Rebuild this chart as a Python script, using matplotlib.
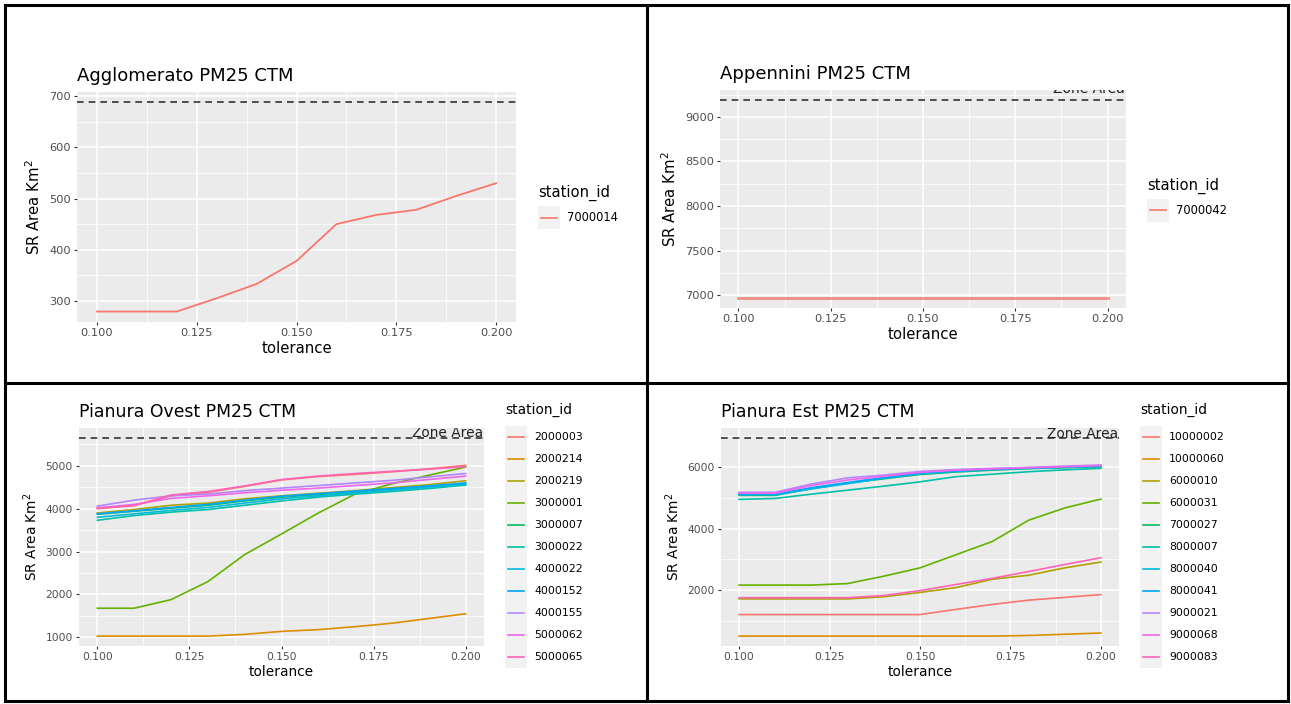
import matplotlib
matplotlib.use("Agg")
import matplotlib.pyplot as plt
from matplotlib.lines import Line2D
from matplotlib.patches import Rectangle
from matplotlib.ticker import MultipleLocator, FormatStrFormatter

plt.rcParams['font.family'] = ['DejaVu Sans']

# ---------------- data ----------------
tolerance = [0.10, 0.11, 0.12, 0.13, 0.14, 0.15, 0.16, 0.17, 0.18, 0.19, 0.20]

agg_title = "Agglomerato PM25 CTM"
agg_stations = ["7000014"]
agg_values = [
    [279, 279, 279, 305, 333, 378, 450, 468, 478, 505, 530],
]
agg_zone = 688

app_title = "Appennini PM25 CTM"
app_stations = ["7000042"]
app_values = [
    [6966, 6966, 6966, 6966, 6966, 6966, 6966, 6966, 6966, 6966, 6966],
]
app_zone = 9190

ovest_title = "Pianura Ovest PM25 CTM"
ovest_stations = ["2000003", "2000214", "2000219", "3000001", "3000007", "3000022",
                  "4000022", "4000152", "4000155", "5000062", "5000065"]
ovest_values = [
    [4000, 4080, 4300, 4380, 4520, 4670, 4750, 4800, 4860, 4930, 5010],
    [1030, 1030, 1030, 1030, 1070, 1140, 1180, 1250, 1330, 1440, 1550],
    [3900, 3980, 4080, 4130, 4230, 4300, 4360, 4420, 4490, 4560, 4650],
    [1680, 1680, 1880, 2300, 2930, 3410, 3900, 4340, 4580, 4780, 4970],
    [3870, 3940, 4010, 4080, 4180, 4270, 4330, 4390, 4450, 4520, 4580],
    [3730, 3840, 3920, 3980, 4080, 4180, 4270, 4340, 4400, 4470, 4550],
    [3800, 3880, 3960, 4030, 4130, 4230, 4300, 4370, 4430, 4500, 4570],
    [3880, 3950, 4030, 4100, 4200, 4290, 4350, 4410, 4470, 4530, 4600],
    [4060, 4200, 4300, 4340, 4420, 4480, 4540, 4600, 4660, 4740, 4820],
    [4020, 4100, 4240, 4300, 4370, 4430, 4480, 4540, 4600, 4680, 4760],
    [4010, 4070, 4320, 4400, 4530, 4680, 4760, 4820, 4870, 4920, 4980],
]
ovest_zone = 5650

est_title = "Pianura Est PM25 CTM"
est_stations = ["10000002", "10000060", "6000010", "6000031", "7000027", "8000007",
                "8000040", "8000041", "9000021", "9000068", "9000083"]
est_values = [
    [1200, 1200, 1200, 1200, 1200, 1200, 1370, 1530, 1670, 1760, 1850],
    [500, 500, 500, 500, 500, 500, 500, 500, 520, 560, 600],
    [1710, 1710, 1710, 1710, 1780, 1920, 2080, 2350, 2480, 2720, 2910],
    [2160, 2160, 2160, 2210, 2450, 2720, 3150, 3580, 4270, 4670, 4960],
    [5080, 5080, 5300, 5480, 5620, 5760, 5840, 5900, 5950, 5980, 6010],
    [4950, 4980, 5120, 5250, 5380, 5520, 5690, 5770, 5850, 5910, 5960],
    [5100, 5100, 5290, 5460, 5640, 5780, 5860, 5920, 5960, 5990, 6020],
    [5120, 5120, 5330, 5500, 5660, 5800, 5880, 5930, 5970, 6000, 6040],
    [5180, 5180, 5450, 5650, 5740, 5860, 5920, 5960, 5990, 6030, 6070],
    [5150, 5150, 5400, 5580, 5700, 5830, 5900, 5940, 5980, 6010, 6050],
    [1750, 1750, 1750, 1750, 1820, 1980, 2180, 2380, 2600, 2830, 3050],
]
est_zone = 6950

# ---------------- style ----------------
W, H = 1291, 704
HUE = {1: ["#F8766D"],
       11: ["#F8766D", "#DB8E00", "#AEA200", "#64B200", "#00BD5C", "#00C1A7",
            "#00BADE", "#00A6FF", "#B385FF", "#EF67EB", "#FF63B6"]}
ZONE_LABEL_OFFSET = 120

fig = plt.figure(figsize=(W / 100, H / 100), dpi=100)
fig.patch.set_facecolor("white")


def fx(x):
    return x / W


def fy(y):
    return 1 - y / H


def add_axes_px(x0, y0, x1, y1):
    return fig.add_axes([fx(x0), fy(y1), (x1 - x0) / W, (y1 - y0) / H])


def draw_panel(rect, title, stations, values, zone, ymaj, ymin, fs, lw, alpha=1.0):
    ax = add_axes_px(*rect)
    ax.set_facecolor("#EBEBEB")
    for sp in ax.spines.values():
        sp.set_visible(False)
    colors = HUE[len(stations)]
    for s, v, c in zip(stations, values, colors):
        ax.plot(tolerance, v, color=c, lw=lw, label=s, zorder=3, alpha=alpha)
    ax.axhline(zone, color="#333333", ls=(0, (4, 3)), lw=1.2, zorder=4)
    t = ax.text(0.195, zone + ZONE_LABEL_OFFSET, "Zone Area", ha="center", va="center",
                fontsize=fs["zone"], color="#222222", zorder=5)
    t.set_clip_on(True)
    t.set_clip_path(ax.patch)
    allv = [x for v in values for x in v] + [zone]
    lo, hi = min(allv), max(allv)
    r = hi - lo
    ax.set_ylim(lo - 0.05 * r, hi + 0.05 * r)
    xr = max(tolerance) - min(tolerance)
    ax.set_xlim(min(tolerance) - 0.05 * xr, max(tolerance) + 0.05 * xr)
    ax.xaxis.set_major_locator(MultipleLocator(0.025))
    ax.xaxis.set_minor_locator(MultipleLocator(0.0125))
    ax.xaxis.set_major_formatter(FormatStrFormatter("%.3f"))
    ax.yaxis.set_major_locator(MultipleLocator(ymaj))
    ax.yaxis.set_minor_locator(MultipleLocator(ymin))
    ax.yaxis.set_major_formatter(FormatStrFormatter("%d"))
    ax.grid(which="major", color="white", lw=1.1)
    ax.grid(which="minor", color="white", lw=0.55)
    ax.set_axisbelow(True)
    ax.tick_params(which="major", length=2.5, width=0.8, color="#333333",
                   labelsize=fs["tick"], labelcolor="#4D4D4D", pad=2)
    ax.tick_params(which="minor", length=0)
    ax.set_xlabel("tolerance", fontsize=fs["axis"], labelpad=2)
    ax.set_ylabel("SR Area Km$^2$", fontsize=fs["axis"], labelpad=4)
    ax.set_title(title, loc="left", fontsize=fs["title"], pad=8)
    return ax, colors


def draw_legend(x, ytitle, stations, colors, spacing, fs, key_off):
    fig.text(fx(x), fy(ytitle), "station_id", ha="left", va="center",
             fontsize=fs["ltitle"], color="black")
    y0 = ytitle + key_off
    n = len(stations)
    fig.add_artist(Rectangle((fx(x), fy(y0 - spacing / 2 + n * spacing)), 22 / W,
                             n * spacing / H, transform=fig.transFigure,
                             facecolor="#F2F2F2", edgecolor="none"))
    for i, (s, c) in enumerate(zip(stations, colors)):
        yc = y0 + i * spacing
        fig.add_artist(Line2D([fx(x + 3), fx(x + 19)], [fy(yc), fy(yc)],
                              transform=fig.transFigure, color=c, lw=1.2))
        fig.text(fx(x + 29), fy(yc), s, ha="left", va="center",
                 fontsize=fs["ltext"], color="black")


fs_top = {"title": 13, "tick": 8.2, "axis": 10.7, "ltitle": 10.6, "ltext": 8.3, "zone": 10}
fs_bot = {"title": 12.4, "tick": 7.7, "axis": 9.9, "ltitle": 9.9, "ltext": 7.8, "zone": 9.9}

ax1, c1 = draw_panel((77, 92, 516, 322), agg_title, agg_stations, agg_values, agg_zone,
                     100, 50, fs_top, 1.3)
draw_legend(538, 193, agg_stations, c1, 23, fs_top, 25)

ax2, c2 = draw_panel((720, 90, 1126, 308), app_title, app_stations, app_values, app_zone,
                     500, 250, fs_top, 2.0, alpha=0.8)
draw_legend(1147, 186, app_stations, c2, 23, fs_top, 24)

ax3, c3 = draw_panel((79, 428, 484, 646), ovest_title, ovest_stations, ovest_values,
                     ovest_zone, 1000, 500, fs_bot, 1.2)
draw_legend(505, 410, ovest_stations, c3, 22, fs_bot, 26.5)

ax4, c4 = draw_panel((721, 428, 1119, 646), est_title, est_stations, est_values,
                     est_zone, 2000, 1000, fs_bot, 1.2)
draw_legend(1140, 410, est_stations, c4, 22, fs_bot, 26.5)

# frame lines
frame_kw = dict(transform=fig.transFigure, color="black", lw=2.2)
for (xa, ya, xb, yb) in [(5, 5, 1288, 5), (5, 701, 1288, 701), (5, 5, 5, 701),
                         (1288, 5, 1288, 701), (647, 5, 647, 701), (5, 383, 1288, 383)]:
    fig.add_artist(Line2D([fx(xa), fx(xb)], [fy(ya), fy(yb)], **frame_kw))

fig.savefig("out.png", dpi=100, facecolor="white")
